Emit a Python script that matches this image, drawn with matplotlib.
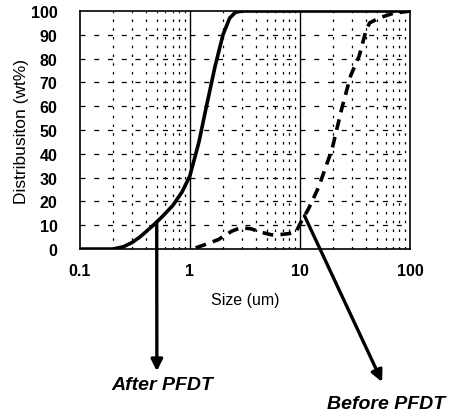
import numpy as np
import matplotlib.pyplot as plt
from matplotlib.ticker import FixedLocator, NullFormatter

plt.rcParams['font.family'] = ['Liberation Sans', 'DejaVu Sans']

# After PFDT (solid)
after_x = [0.1, 0.2, 0.25, 0.3, 0.35, 0.4, 0.46, 0.55, 0.7, 0.85, 1.0, 1.21, 1.4, 1.7, 2.0, 2.3, 2.6, 3.0, 100]
after_y = [0, 0, 1, 2.8, 5, 7.3, 9.8, 13.2, 18.3, 24, 30.7, 45, 59, 77, 90, 97, 99.5, 100, 100]

# Before PFDT (dashed)
before_x = [1.13, 1.4, 1.82, 2.4, 2.9, 3.6, 4.5, 5.5, 6.4, 8, 9.2, 10, 12, 14.8, 19.6, 24, 29, 34.5, 40, 43, 52, 70, 100]
before_y = [0.5, 2, 4, 7.5, 9, 8.5, 7, 6, 6, 6.5, 7, 10.5, 17, 26, 42, 59, 73, 81, 92, 95, 97, 99, 100]

y_ticks = list(range(0, 101, 10))
x_ticks = [0.1, 1, 10, 100]
x_tick_labels = ['0.1', '1', '10', '100']

fig = plt.figure(figsize=(4.56, 4.14), dpi=100)
ax = fig.add_axes([0.175, 0.396, 0.724, 0.575])

ax.set_xscale('log')
ax.set_xlim(0.1, 100)
ax.set_ylim(0, 100)

# grid
minor = [m * 10.0 ** e for e in (-1, 0, 1) for m in range(2, 10)]
for xv in minor:
    ax.axvline(xv, color='black', lw=0.9, ls=(0, (2, 5)), zorder=1)
for xv in [1, 10]:
    ax.axvline(xv, color='black', lw=1.0, zorder=1)
for yv in y_ticks[1:-1]:
    ax.axhline(yv, color='black', lw=0.9, ls=(0, (4, 7)), zorder=1)

ax.plot(after_x, after_y, color='black', lw=2.6, zorder=3)
ax.plot(before_x, before_y, color='black', lw=2.6, ls=(0, (3, 2)), zorder=3)

ax.xaxis.set_major_locator(FixedLocator(x_ticks))
ax.xaxis.set_minor_formatter(NullFormatter())
ax.set_xticks(x_ticks)
ax.set_xticklabels(x_tick_labels)
ax.set_yticks(y_ticks)
ax.tick_params(axis='both', which='both', length=0, labelsize=11.5)
ax.tick_params(axis='y', pad=16)
ax.tick_params(axis='x', pad=10)
for lab in ax.get_xticklabels() + ax.get_yticklabels():
    lab.set_fontweight('bold')

for s in ax.spines.values():
    s.set_linewidth(1.2)

ax.set_xlabel('Size (um)', fontsize=11.5, labelpad=10)
ax.set_ylabel('Distribusiton (wt%)', fontsize=12.5, labelpad=1)

arrow = dict(arrowstyle='-|>', lw=2.4, color='black', mutation_scale=17, shrinkA=0, shrinkB=0)
ax.annotate('', xy=(0.344, 0.101), xycoords='figure fraction',
            xytext=(0.5, 11.5), textcoords='data', arrowprops=arrow, annotation_clip=False)
ax.annotate('', xy=(0.838, 0.075), xycoords='figure fraction',
            xytext=(11, 14), textcoords='data', arrowprops=arrow, annotation_clip=False)

fig.text(0.357, 0.070, 'After PFDT', ha='center', va='center',
         fontsize=14, fontweight='bold', style='italic')
fig.text(0.846, 0.022, 'Before PFDT', ha='center', va='center',
         fontsize=14, fontweight='bold', style='italic')

fig.savefig('out.png', dpi=100)
